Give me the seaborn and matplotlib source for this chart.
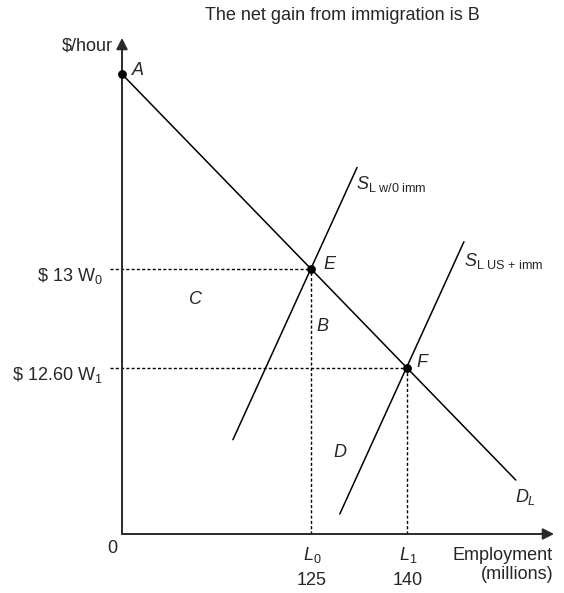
import numpy as np
import pandas as pd
import matplotlib
matplotlib.use("Agg")
import matplotlib.pyplot as plt
import seaborn as sns
from matplotlib import font_manager as fm

# ---------------- data ----------------
employment_names = ["L_0", "L_1"]
employment_values = [125, 140]          # millions
wage_names = ["W_0", "W_1"]
wage_values = [13.0, 12.60]             # $/hour
wage_text = ["13", "12.60"]

# schematic axis range (axis origin drawn as "0")
x_range = [95.47, 162.97]
y_range = [11.929, 13.933]

demand_x = [95.47, 125, 140, 157.0]
demand_y = [13.787, 13.0, 12.6, 12.147]
supply_old_x = [112.8, 132.2]
supply_old_y = [12.31, 13.41]
supply_new_x = [129.5, 148.9]
supply_new_y = [12.01, 13.11]

point_names = ["A", "E", "F"]
point_x = [95.47, 125, 140]
point_y = [13.787, 13.0, 12.6]

area_names = ["C", "B", "D"]
area_x = [107.0, 126.9, 129.5]
area_y = [12.875, 12.766, 12.26]

title = "The net gain from immigration is B"

# ---------------- style ----------------
sns.set_theme(style="white")
names = {f.name for f in fm.fontManager.ttflist}
fam = "Liberation Sans Narrow" if "Liberation Sans Narrow" in names else "Liberation Sans"
fs = 14 if fam == "Liberation Sans Narrow" else 13
plt.rcParams["font.family"] = [fam, "DejaVu Sans"]
plt.rcParams["mathtext.fontset"] = "custom"
plt.rcParams["mathtext.rm"] = fam
plt.rcParams["mathtext.it"] = fam + ":italic"
plt.rcParams["mathtext.bf"] = fam + ":bold"
plt.rcParams["mathtext.sf"] = fam

W, H = 564, 593
fig = plt.figure(figsize=(W / 100, H / 100), dpi=100)
fig.patch.set_facecolor("white")
ox, oy, tx, ty = 122, 534, 554, 38
ax = fig.add_axes([ox / W, 1 - oy / H, (tx - ox) / W, (oy - ty) / H])
ax.set_xlim(*x_range)
ax.set_ylim(*y_range)
ax.set_facecolor("white")
for s in ax.spines.values():
    s.set_visible(False)
ax.set_xticks([])
ax.set_yticks([])

PT = 0.72  # points per pixel
axis_col = "#2a2a2a"

# axes with arrows
ax.annotate("", xy=(1, 0), xytext=(0, 0), xycoords="axes fraction",
            arrowprops=dict(arrowstyle="-|>,head_length=0.55,head_width=0.28",
                            lw=1.4, color=axis_col, shrinkA=0, shrinkB=0))
ax.annotate("", xy=(0, 1), xytext=(0, 0), xycoords="axes fraction",
            arrowprops=dict(arrowstyle="-|>,head_length=0.55,head_width=0.28",
                            lw=1.4, color=axis_col, shrinkA=0, shrinkB=0))

# curves
sns.lineplot(x=demand_x, y=demand_y, ax=ax, color="black", lw=1.1,
             estimator=None, sort=False)
sns.lineplot(x=supply_old_x, y=supply_old_y, ax=ax, color="black", lw=1.1,
             estimator=None, sort=False)
sns.lineplot(x=supply_new_x, y=supply_new_y, ax=ax, color="black", lw=1.1,
             estimator=None, sort=False)

# dotted guide lines
dash = (0, (2.2, 1.6))
x_left = x_range[0] - 12 / 6.4
for xv, yv in zip(employment_values, wage_values):
    ax.plot([x_left, xv], [yv, yv], color="black", lw=1.0, linestyle=dash,
            clip_on=False)
    ax.plot([xv, xv], [y_range[0], yv], color="black", lw=1.0, linestyle=dash,
            clip_on=False)

# points
sns.scatterplot(x=point_x, y=point_y, ax=ax, color="black", s=40,
                edgecolor="black", linewidth=0, zorder=5, clip_on=False)

# point labels
pt_off = {"A": (16, 4), "E": (19, 4), "F": (16, 5)}
for n, xv, yv in zip(point_names, point_x, point_y):
    dx, dy = pt_off[n]
    ax.annotate(f"${n}$", (xv, yv), xytext=(dx * PT, dy * PT),
                textcoords="offset points", ha="center", va="center",
                fontsize=fs, annotation_clip=False)

# area labels
for n, xv, yv in zip(area_names, area_x, area_y):
    ax.text(xv, yv, f"${n}$", ha="center", va="center", fontsize=fs)

# curve labels
ax.annotate(r"$S_{\mathrm{L\ w/0\ imm}}$", (supply_old_x[1], supply_old_y[1]),
            xytext=(-1 * PT, -22 * PT), textcoords="offset points",
            ha="left", va="baseline", fontsize=fs)
ax.annotate(r"$S_{\mathrm{L\ US\ {+}\ imm}}$", (supply_new_x[1], supply_new_y[1]),
            xytext=(0, -24 * PT), textcoords="offset points",
            ha="left", va="baseline", fontsize=fs)
ax.annotate(r"$D_L$", (demand_x[-1], demand_y[-1]),
            xytext=(10 * PT, -22 * PT), textcoords="offset points",
            ha="center", va="baseline", fontsize=fs)

# wage labels
for t, n, yv in zip(wage_text, wage_names, wage_values):
    ax.annotate(r"\$ " + t + " " + n[0] + "$_" + n[2] + "$", (x_range[0], yv),
                xytext=(-19 * PT, -12 * PT), textcoords="offset points",
                ha="right", va="baseline", fontsize=fs, annotation_clip=False)

# employment labels
for n, xv in zip(employment_names, employment_values):
    ax.annotate(f"${n}$", (xv, y_range[0]), xytext=(1 * PT, -26 * PT),
                textcoords="offset points", ha="center", va="baseline",
                fontsize=fs, annotation_clip=False)
    ax.annotate(str(xv), (xv, y_range[0]), xytext=(1 * PT, -51 * PT),
                textcoords="offset points", ha="center", va="baseline",
                fontsize=fs, annotation_clip=False)

# origin and axis titles
ax.annotate("0", (0, 0), xycoords="axes fraction", xytext=(-10 * PT, -19 * PT),
            textcoords="offset points", ha="center", va="baseline", fontsize=fs)
ax.annotate("$/hour", (0, 1), xycoords="axes fraction", xytext=(-9 * PT, -13 * PT),
            textcoords="offset points", ha="right", va="baseline", fontsize=fs)
ax.annotate("Employment", (1, 0), xycoords="axes fraction", xytext=(-1 * PT, -26 * PT),
            textcoords="offset points", ha="right", va="baseline", fontsize=fs)
ax.annotate("(millions)", (1, 0), xycoords="axes fraction", xytext=(-1 * PT, -45 * PT),
            textcoords="offset points", ha="right", va="baseline", fontsize=fs)

fig.text(342 / W, 1 - 15 / H, title, ha="center", va="center", fontsize=fs)

fig.savefig("out.png", dpi=100, facecolor="white")
